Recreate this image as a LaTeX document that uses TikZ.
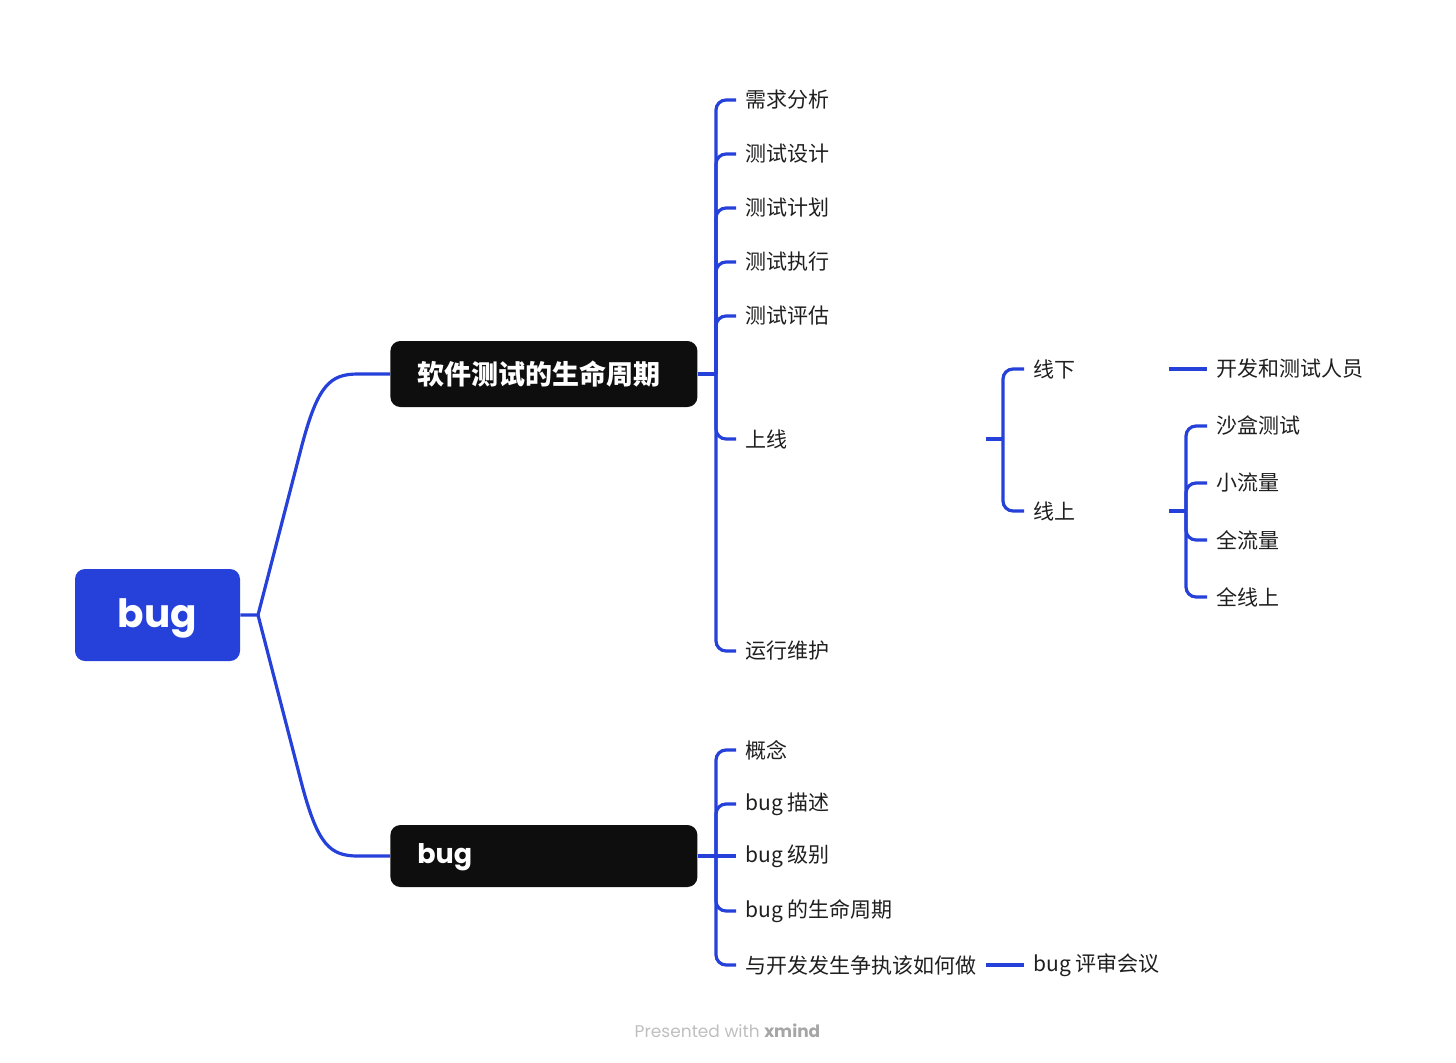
\documentclass[tikz,border=0pt]{standalone}
\usepackage{fontspec}
\setmainfont{Noto Sans CJK SC}
\newfontfamily\latinfont{Poppins}
\definecolor{xblue}{HTML}{2541D9}
\definecolor{xblack}{HTML}{0E0E0E}
\begin{document}
\begin{tikzpicture}[x=0.5pt, y=-0.5pt,
  link/.style={draw=xblue, line width=1.6pt},
  elbow/.style={link, rounded corners=5pt},
  leaf/.style={anchor=west, inner xsep=4.5pt, inner ysep=0pt, text=black!88,
    font=\fontsize{10.5}{12}\selectfont},
  topic/.style={anchor=west, fill=xblack, text=white, rounded corners=5pt,
    inner xsep=13.5pt, text width=126.5pt, font=\bfseries\fontsize{13.5}{15}\selectfont}]
  \useasboundingbox (0,0) rectangle (1456,1062);
  % Root and the two main topics
  \node[fill=xblue, text=white, rounded corners=5pt, minimum width=82.5pt, minimum height=46pt,
    inner sep=0pt, text height=16pt, text depth=4pt,
    font=\latinfont\bfseries\fontsize{19.5}{22}\selectfont] (root) at (157.5,615) {bug};
  \node[topic, minimum height=33pt] (life) at (390,374) {软件测试的生命周期};
  \node[topic, minimum height=31pt, text height=10pt, text depth=2.3pt] (bugt) at (390,856) {\latinfont bug};
  \coordinate (rj) at (258,615);
  \draw[link] (root.east) -- (rj) -- (302,445) .. controls (318,385) and (330,374) .. (358,374) -- (life.west);
  \draw[link] (rj) -- (302,785) .. controls (318,845) and (330,856) .. (358,856) -- (bugt.west);
  % Life cycle stages
  \node[leaf] (xq) at (736,100) {需求分析};
  \node[leaf] (sj) at (736,154) {测试设计};
  \node[leaf] (jh) at (736,208) {测试计划};
  \node[leaf] (zx) at (736,262) {测试执行};
  \node[leaf] (pg) at (736,316) {测试评估};
  \node[leaf, text width=115.5pt] (sx) at (736,439) {上线};
  \node[leaf] (yw) at (736,651) {运行维护};
  \coordinate (s1) at (716,374);
  \draw[link] (life.east) -- (s1);
  \draw[elbow] (xq.west) -| (s1) |- (yw.west);
  \foreach \n in {sj,jh,zx,pg,sx} \draw[elbow] (s1) |- (\n.west);
  % Going online: offline / online
  \node[leaf, text width=63pt] (xx) at (1024,369) {线下};
  \node[leaf, text width=63pt] (xs) at (1024,511) {线上};
  \coordinate (s2) at (1003,439);
  \draw[link] (sx.east) -- (s2);
  \draw[elbow] (xx.west) -| (s2) |- (xs.west);
  \node[leaf] (ry) at (1207,369) {开发和测试人员};
  \draw[link] (xx.east) -- (ry.west);
  \node[leaf] (sh) at (1207,426) {沙盒测试};
  \node[leaf] (xl) at (1207,483) {小流量};
  \node[leaf] (ql) at (1207,540) {全流量};
  \node[leaf] (qx) at (1207,597) {全线上};
  \coordinate (s3) at (1186,511);
  \draw[link] (xs.east) -- (s3);
  \draw[elbow] (sh.west) -| (s3) |- (qx.west);
  \draw[elbow] (s3) |- (xl.west);
  \draw[elbow] (s3) |- (ql.west);
  % bug topics
  \node[leaf] (gn) at (736,750) {概念};
  \node[leaf] (ms) at (736,804) {bug 描述};
  \node[leaf] (jb) at (736,856) {bug 级别};
  \node[leaf] (zq) at (736,911) {bug 的生命周期};
  \node[leaf] (zz) at (736,965) {与开发发生争执该如何做};
  \node[leaf] (ps) at (1024,965) {bug 评审会议};
  \coordinate (s4) at (716,856);
  \draw[link] (bugt.east) -- (jb.west);
  \draw[elbow] (gn.west) -| (s4) |- (zz.west);
  \draw[elbow] (s4) |- (ms.west);
  \draw[elbow] (s4) |- (zq.west);
  \draw[link] (zz.east) -- (ps.west);
  % Footer
  \node[text=black!25, font=\latinfont\fontsize{8.5}{10}\selectfont] (credit) at (727.5,1031)
    {Presented with {\bfseries\color{black!35}xmind}};
\end{tikzpicture}
\end{document}
